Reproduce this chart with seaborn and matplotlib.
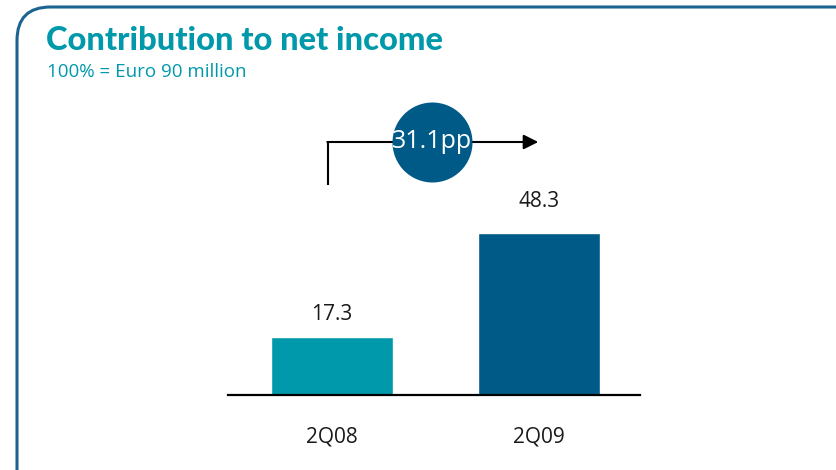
import matplotlib
matplotlib.use("Agg")
import matplotlib.pyplot as plt
from matplotlib.patches import FancyBboxPatch
import seaborn as sns
import pandas as pd

# Data
periods = ["2Q08", "2Q09"]
contribution = [17.3, 48.3]
change_label = "31.1pp"
title = "Contribution to net income"
subtitle = "100% = Euro 90 million"

teal = "#0099ab"
navy = "#005a87"
frame_col = "#1b6391"

sns.set_theme(style="white")
plt.rcParams["font.family"] = ["Open Sans", "DejaVu Sans"]

W, H = 837, 470
fig = plt.figure(figsize=(W / 100, H / 100), dpi=100)

# Rounded panel border running off the right and bottom edges
frame = FancyBboxPatch((17 / W, -0.2), 1.2, (H - 7) / H + 0.2,
                       boxstyle="round,pad=0,rounding_size=0.04",
                       transform=fig.transFigure, fill=False,
                       edgecolor=frame_col, linewidth=2.2, mutation_aspect=W / H)
fig.patches.append(frame)

fig.text(46 / W, 1 - 50 / H, title, color=teal, fontsize=23.5,
         fontweight="black", family=["Lato", "Open Sans", "DejaVu Sans"],
         ha="left", va="baseline")
fig.text(47 / W, 1 - 77 / H, subtitle, color=teal, fontsize=13.5,
         ha="left", va="baseline")

# Plot area in pixel terms: x 228..640, baseline at y=395
ax_left, ax_right = 228, 640
ax_bottom, ax_top = 395, 100
ax = fig.add_axes([ax_left / W, (H - ax_bottom) / H,
                   (ax_right - ax_left) / W, (ax_bottom - ax_top) / H])

df = pd.DataFrame({"period": periods, "value": contribution})
sns.barplot(data=df, x="period", y="value", hue="period",
            palette=[teal, navy], width=0.59, legend=False, ax=ax,
            saturation=1)

px_per_unit = 162 / 48.3
ax.set_ylim(0, (ax_bottom - ax_top) / px_per_unit)
ax.set_xlim(-0.504, 1.49)

label_gap_px = [17, 26]
for i, v in enumerate(contribution):
    ax.text(i, v + label_gap_px[i] / px_per_unit, f"{v:.1f}", ha="center",
            va="baseline", fontsize=15, color="#1a1a1a")

ax.set_yticks([])
ax.set_xlabel("")
ax.set_ylabel("")
ax.tick_params(axis="x", length=0, pad=23, labelsize=15, labelcolor="#1a1a1a")
for s in ["top", "right", "left"]:
    ax.spines[s].set_visible(False)
ax.spines["bottom"].set_color("black")
ax.spines["bottom"].set_linewidth(1.6)

# Change arrow with circled badge
y_arrow = (ax_bottom - 142) / px_per_unit
y_start = (ax_bottom - 185) / px_per_unit
x_start = (328 - 332) / 206.5
x_tip = (538 - 332) / 206.5
ax.plot([x_start, x_start], [y_start, y_arrow], color="black", lw=1.5,
        clip_on=False, solid_capstyle="butt")
ax.annotate("", xy=(x_tip, y_arrow), xytext=(x_start - 0.004, y_arrow),
            arrowprops=dict(arrowstyle="-|>", color="black", lw=1.5,
                            mutation_scale=22, shrinkA=0, shrinkB=0),
            annotation_clip=False)
x_badge = (432 - 332) / 206.5
ax.scatter([x_badge], [y_arrow], s=(80 * 0.72) ** 2, color=navy,
           zorder=5, clip_on=False, linewidths=0)
ax.text(x_badge, y_arrow, change_label, color="white", fontsize=18,
        ha="center", va="center", zorder=6)

fig.savefig("out.png", dpi=100)
